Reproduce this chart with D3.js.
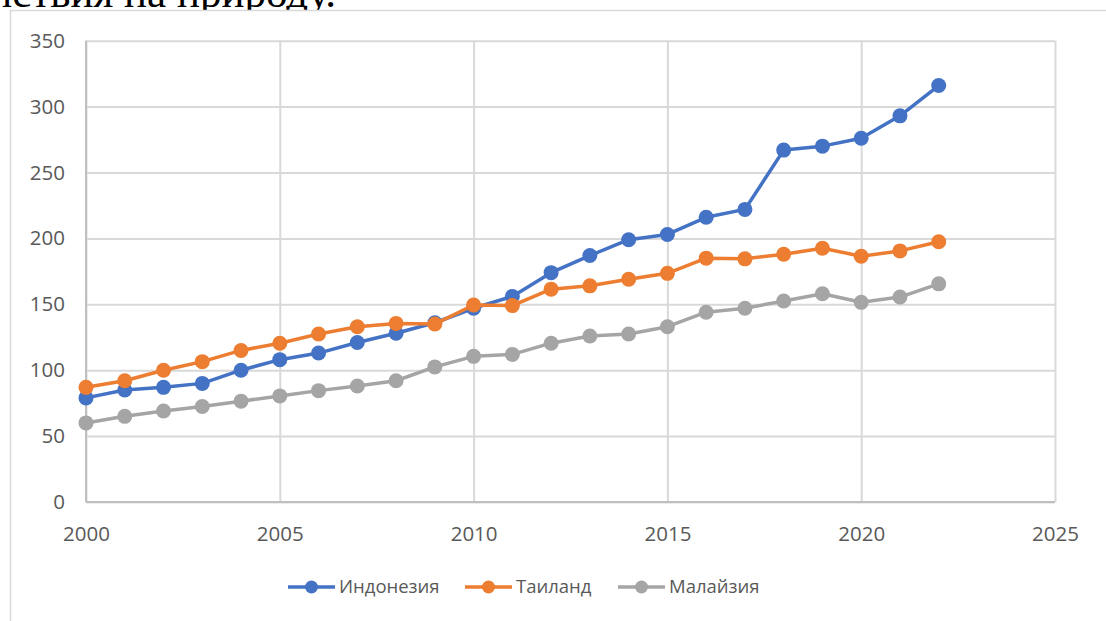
<!DOCTYPE html>
<html>
<head>
<meta charset="utf-8">
<script src="https://cdn.jsdelivr.net/npm/d3@7/dist/d3.min.js"></script>
<style>
    html, body { margin: 0; padding: 0; background: #fff; overflow: hidden; }
    svg { display: block; }
</style>
</head>
<body>
<div id="chart"></div>
<script>
'use strict';

// data
const years = d3.range(2000, 2023);
const indonesia = [79, 85, 87, 90, 100, 108, 113, 121, 128, 136, 147, 156, 174, 187, 199, 203, 216, 222, 267, 270, 276, 293, 316];
const thailand = [87, 92, 100, 106.5, 115, 120.5, 127.5, 133, 135.5, 135, 149.5, 149, 161.5, 164, 169, 173.5, 185, 184.5, 188, 192.5, 186.5, 190.5, 197.5];
const malaysia = [60, 65, 69, 72.5, 76.5, 80.5, 84.5, 88, 92, 102.5, 110.5, 112, 120.5, 126, 127.5, 133, 144, 147, 152.5, 158, 151.5, 155.5, 165.5];

const seriesNames = ["Индонезия", "Таиланд", "Малайзия"];
const seriesColors = ["#4472C4", "#ED7D31", "#A5A5A5"];
const yTicks = [0, 50, 100, 150, 200, 250, 300, 350];
const xTicks = [2000, 2005, 2010, 2015, 2020, 2025];

const W = 1106, H = 621;
const FONT = "'Open Sans', 'Noto Sans', sans-serif";

const svg = d3.select("#chart").append("svg")
    .attr("width", W)
    .attr("height", H);

// cut-off line of document text above the chart
svg.append("text")
    .attr("x", 336)
    .attr("y", 7)
    .attr("text-anchor", "end")
    .attr("font-family", "'Liberation Serif', 'Times New Roman', serif")
    .attr("font-size", 43)
    .attr("fill", "#000")
    .text("действия на природу.");

// chart frame
svg.append("rect")
    .attr("x", 10.5)
    .attr("y", 10.5)
    .attr("width", W + 20)
    .attr("height", H + 20)
    .attr("fill", "#fff")
    .attr("stroke", "#d9d9d9")
    .attr("stroke-width", 1.5);

const x = d3.scaleLinear().domain([2000, 2025]).range([86, 1055]);
const y = d3.scaleLinear().domain([0, 350]).range([502, 40.7]);

const g = svg.append("g");

// gridlines
g.append("g")
    .attr("transform", `translate(${x(2000)},0)`)
    .call(d3.axisLeft(y).tickValues(yTicks).tickSize(-(x(2025) - x(2000))).tickFormat(""))
    .call(ax => ax.select(".domain").remove())
    .selectAll("line").attr("stroke", "#d9d9d9").attr("stroke-width", 2);

g.append("g")
    .attr("transform", `translate(0,${y(0)})`)
    .call(d3.axisBottom(x).tickValues(xTicks).tickSize(-(y(0) - y(350))).tickFormat(""))
    .call(ax => ax.select(".domain").remove())
    .selectAll("line").attr("stroke", "#d9d9d9").attr("stroke-width", 2);

// axis lines
g.append("line")
    .attr("x1", x(2000)).attr("x2", x(2025))
    .attr("y1", y(0)).attr("y2", y(0))
    .attr("stroke", "#bfbfbf").attr("stroke-width", 2);
g.append("line")
    .attr("x1", x(2000)).attr("x2", x(2000))
    .attr("y1", y(0)).attr("y2", y(350))
    .attr("stroke", "#bfbfbf").attr("stroke-width", 2);

// tick labels
const yAxis = g.append("g")
    .attr("transform", `translate(${x(2000) - 18},0)`)
    .call(d3.axisLeft(y).tickValues(yTicks).tickSize(0));
yAxis.select(".domain").remove();
yAxis.selectAll("text")
    .attr("font-family", FONT)
    .attr("font-size", 20.5)
    .attr("fill", "#595959");

const xAxis = g.append("g")
    .attr("transform", `translate(0,${y(0) + 21})`)
    .call(d3.axisBottom(x).tickValues(xTicks).tickSize(0).tickFormat(d3.format("d")));
xAxis.select(".domain").remove();
xAxis.selectAll("text")
    .attr("font-family", FONT)
    .attr("font-size", 20.5)
    .attr("fill", "#595959");

// series
const series = [indonesia, thailand, malaysia];
const line = d3.line()
    .x((d, i) => x(years[i]))
    .y(d => y(d));

series.forEach((vals, s) => {
    const sg = g.append("g");
    sg.append("path")
        .attr("d", line(vals))
        .attr("fill", "none")
        .attr("stroke", seriesColors[s])
        .attr("stroke-width", 3.5)
        .attr("stroke-linejoin", "round");
    sg.selectAll("circle")
        .data(vals)
        .join("circle")
        .attr("cx", (d, i) => x(years[i]))
        .attr("cy", d => y(d))
        .attr("r", 7.5)
        .attr("fill", seriesColors[s]);
});

// legend
const legendX = [288, 465, 618];
const legendY = 587;
const legend = svg.append("g");
seriesNames.forEach((name, s) => {
    const lg = legend.append("g").attr("transform", `translate(${legendX[s]},${legendY})`);
    lg.append("line")
        .attr("x1", 0).attr("x2", 47)
        .attr("stroke", seriesColors[s])
        .attr("stroke-width", 3.5);
    lg.append("circle")
        .attr("cx", 23.5)
        .attr("r", 6.5)
        .attr("fill", seriesColors[s]);
    lg.append("text")
        .attr("x", 51)
        .attr("dy", "0.35em")
        .attr("font-family", FONT)
        .attr("font-size", 18.5)
        .attr("fill", "#595959")
        .text(name);
});
</script>
</body>
</html>
